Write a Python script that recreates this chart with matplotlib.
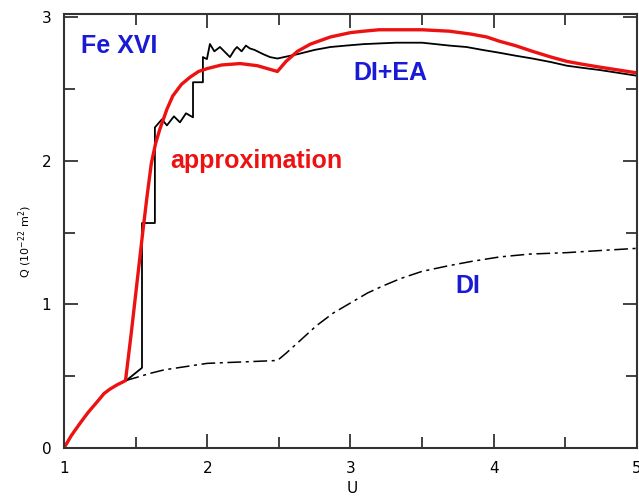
import matplotlib
matplotlib.use('Agg')
import matplotlib.pyplot as plt
import numpy as np

# ── Données ──
u_approx = [1.0, 1.05, 1.11, 1.17, 1.23, 1.28, 1.32, 1.37, 1.43,
            1.47, 1.51, 1.55, 1.58, 1.61, 1.64, 1.67, 1.72, 1.76, 1.82, 1.88, 1.94,
            2.0, 2.1, 2.23, 2.35, 2.49,
            2.55, 2.63, 2.72, 2.86, 3.0, 3.09, 3.2, 3.35, 3.5, 3.69, 3.84, 3.95,
            4.04, 4.15, 4.27, 4.4, 4.51, 4.62, 4.74, 4.87, 5.0]
q_approx = [0.0, 0.085, 0.17, 0.25, 0.32, 0.38, 0.41, 0.44, 0.47,
            0.80, 1.15, 1.50, 1.75, 1.98, 2.12, 2.22, 2.36, 2.45, 2.53, 2.58, 2.62,
            2.64, 2.665, 2.675, 2.66, 2.62,
            2.69, 2.76, 2.81, 2.86, 2.89, 2.90, 2.91, 2.91, 2.91, 2.90, 2.88, 2.86,
            2.83, 2.80, 2.76, 2.72, 2.69, 2.67, 2.65, 2.63, 2.61]

u_diea = [1.433, 1.545, 1.545, 1.635, 1.635, 1.684, 1.719, 1.768, 1.810, 1.852, 1.901,
          1.901, 1.970, 1.970, 1.998, 2.019, 2.05, 2.089, 2.159, 2.19, 2.208, 2.24,
          2.27, 2.298, 2.33, 2.389, 2.438, 2.49,
          2.56, 2.63, 2.75, 2.86, 2.97, 3.09, 3.2, 3.32, 3.5, 3.69, 3.81, 3.92,
          4.04, 4.15, 4.27, 4.4, 4.51, 4.62, 4.74, 4.87, 5.0]
q_diea = [0.469, 0.559, 1.566, 1.566, 2.231, 2.287, 2.245, 2.308, 2.266, 2.329, 2.301,
          2.545, 2.545, 2.720, 2.706, 2.811, 2.76, 2.79, 2.72, 2.77, 2.79, 2.76,
          2.80, 2.78, 2.77, 2.741, 2.720, 2.71,
          2.725, 2.74, 2.77, 2.79, 2.80, 2.81, 2.815, 2.82, 2.82, 2.80, 2.79, 2.77,
          2.75, 2.73, 2.71, 2.685, 2.66, 2.645, 2.63, 2.61, 2.59]

u_di = [1.43, 1.5, 1.6, 1.7, 1.8, 1.9, 2.0, 2.12, 2.25, 2.37, 2.49,
        2.55, 2.65, 2.76, 2.88, 3.0, 3.12, 3.23, 3.35, 3.5, 3.69, 3.85, 4.04,
        4.25, 4.51, 4.75, 5.0]
q_di = [0.47, 0.49, 0.52, 0.545, 0.56, 0.575, 0.59, 0.595, 0.60, 0.605, 0.61,
        0.66, 0.75, 0.85, 0.94, 1.01, 1.08, 1.13, 1.18, 1.23, 1.27, 1.30, 1.33,
        1.35, 1.36, 1.375, 1.39]

x_ticks = [1, 2, 3, 4, 5]
y_ticks = [0, 1, 2, 3]

fig = plt.figure(figsize=(6.39, 4.98), dpi=100)
ax = fig.add_axes([0.100, 0.100, 0.897, 0.872])

ax.plot(u_di, q_di, color="black", linewidth=1.1, linestyle=(0, (9, 3, 2, 3)))
ax.plot(u_diea, q_diea, color="black", linewidth=1.3)
ax.plot(u_approx, q_approx, color="#ee1111", linewidth=2.4)

txt = dict(fontfamily="Liberation Sans", fontweight="bold", fontsize=18, va="center")
ax.text(1.12, 2.80, "Fe XVI", color="#1a1ad6", **txt)
ax.text(1.74, 2.00, "approximation", color="#ee1111", **txt)
ax.text(3.02, 2.61, "DI+EA", color="#1a1ad6", **txt)
ax.text(3.73, 1.13, "DI", color="#1a1ad6", **txt)

ax.set_xlim(1, 5)
ax.set_ylim(0, 3.02)
ax.set_xticks(x_ticks)
ax.set_yticks(y_ticks)
ax.set_xticks(np.arange(1.5, 5, 1.0), minor=True)
ax.set_yticks(np.arange(0.5, 3, 1.0), minor=True)
ax.tick_params(which="both", direction="in", top=True, right=True,
               labelsize=11, color="#333333", width=1.3)
ax.tick_params(which="major", length=10)
ax.tick_params(which="minor", length=8)
ax.tick_params(axis="x", pad=9)
ax.tick_params(axis="y", pad=9)
for s in ax.spines.values():
    s.set_linewidth(1.5)
    s.set_color("#333333")

ax.set_xlabel("U", fontsize=11)
ax.xaxis.set_label_coords(0.503, -0.075)
ax.set_ylabel(r"Q (10$^{-22}$ m$^2$)", fontsize=8)
ax.yaxis.set_label_coords(-0.052, 0.475)

plt.savefig("out.png", dpi=100)
plt.close()
